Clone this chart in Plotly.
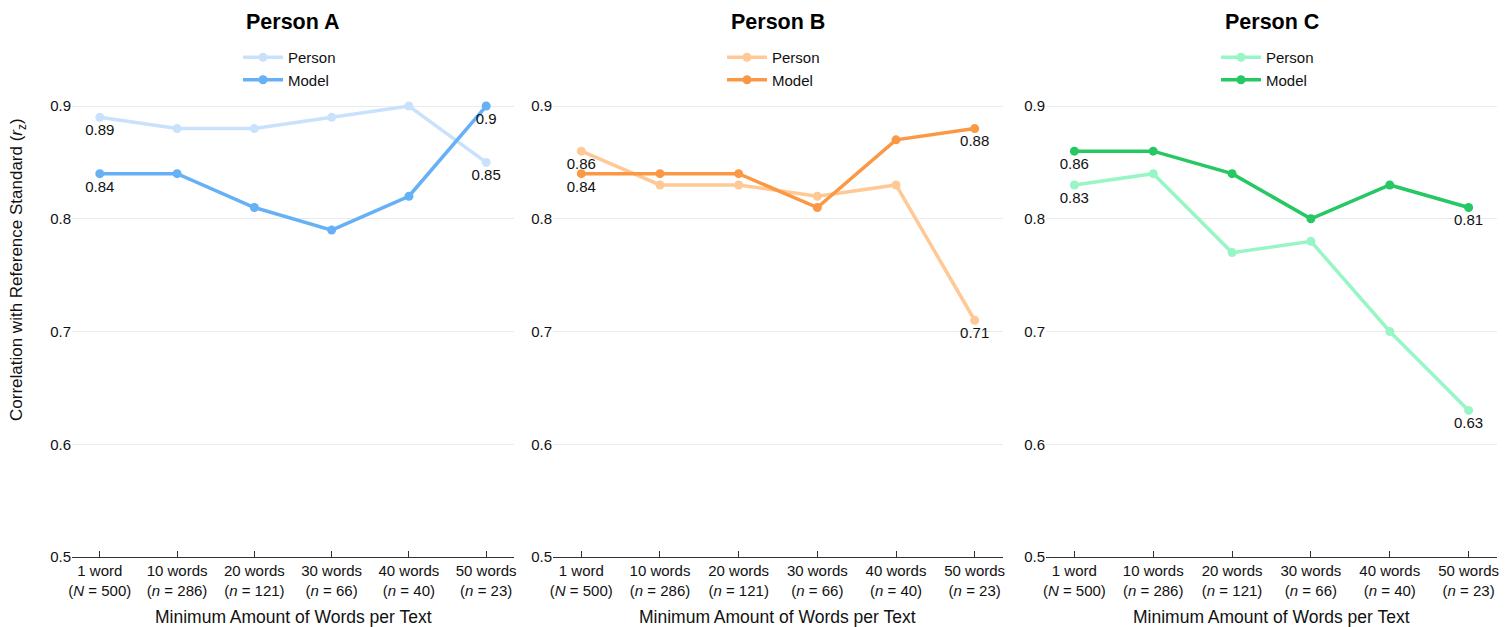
import plotly.graph_objects as go

# the page body adds an 8px margin, so the figure is drawn at (8, 8)
OFF = 8
W, H = 1512 - 2 * OFF, 627 - OFF

categories = ["1 word", "10 words", "20 words", "30 words", "40 words", "50 words"]
tick_labels = [
    "1 word<br>(<i>N</i> = 500)",
    "10 words<br>(<i>n</i> = 286)",
    "20 words<br>(<i>n</i> = 121)",
    "30 words<br>(<i>n</i> = 66)",
    "40 words<br>(<i>n</i> = 40)",
    "50 words<br>(<i>n</i> = 23)",
]
panel_titles = ["Person A", "Person B", "Person C"]

person_a = [0.89, 0.88, 0.88, 0.89, 0.90, 0.85]
model_a = [0.84, 0.84, 0.81, 0.79, 0.82, 0.90]
person_b = [0.86, 0.83, 0.83, 0.82, 0.83, 0.71]
model_b = [0.84, 0.84, 0.84, 0.81, 0.87, 0.88]
person_c = [0.83, 0.84, 0.77, 0.78, 0.70, 0.63]
model_c = [0.86, 0.86, 0.84, 0.80, 0.83, 0.81]

person_colors = ["#c9e1fb", "#fec994", "#98f6c6"]
model_colors = ["#66b0f6", "#fb9846", "#25c863"]

FONT = "Helvetica, Arial, 'Liberation Sans', sans-serif"

# pixel layout (page coordinates)
x_dom_px = [(72, 514), (553, 1003), (1046, 1497)]
y_bottom_px, y_top_px = 557, 95
legend_x_px = [238, 722, 1216]


def px_x(p):
    return (p - OFF) / W


def px_y(p):
    return 1 - (p - OFF) / H


def end_labels(vals):
    return [f"{v:g}" if i in (0, len(vals) - 1) else "" for i, v in enumerate(vals)]


fig = go.Figure()
series = [(person_a, model_a), (person_b, model_b), (person_c, model_c)]

layout = dict(
    width=W, height=H,
    margin=dict(l=0, r=0, t=0, b=0),
    paper_bgcolor="white", plot_bgcolor="white",
    font=dict(family=FONT, size=15, color="#111"),
    annotations=[],
)

for k, (pv, mv) in enumerate(series):
    sfx = "" if k == 0 else str(k + 1)
    leg = "legend" if k == 0 else f"legend{k + 1}"
    for name, vals, col in (("Person", pv, person_colors[k]), ("Model", mv, model_colors[k])):
        fig.add_trace(go.Scatter(
            x=categories, y=vals, name=name, mode="lines+markers+text",
            line=dict(color=col, width=3.5), marker=dict(color=col, size=9),
            text=end_labels(vals), textposition="bottom center",
            textfont=dict(size=15, color="#111"),
            xaxis="x" + sfx, yaxis="y" + sfx, legend=leg, cliponaxis=False,
        ))
    x0, x1 = x_dom_px[k]
    layout["xaxis" + sfx] = dict(
        domain=[px_x(x0), px_x(x1)], anchor="y" + sfx,
        type="category", categoryorder="array", categoryarray=categories,
        range=[-0.36, 5.36],
        tickmode="array", tickvals=categories, ticktext=tick_labels,
        showline=True, linecolor="#333", linewidth=1.2,
        ticks="inside", ticklen=6, tickcolor="#333", tickwidth=1,
        showgrid=False, tickfont=dict(size=15, color="#111"),
        automargin=False, fixedrange=True,
    )
    layout["yaxis" + sfx] = dict(
        domain=[px_y(y_bottom_px), px_y(y_top_px)], anchor="x" + sfx,
        range=[0.5, 0.9098], tickvals=[0.5, 0.6, 0.7, 0.8, 0.9],
        ticktext=["0.5", "0.6", "0.7", "0.8", "0.9"],
        showgrid=True, gridcolor="#ebebeb", gridwidth=1,
        zeroline=False, showline=False, ticks="",
        tickfont=dict(size=15, color="#111"),
        automargin=False, fixedrange=True,
    )
    layout[leg] = dict(
        x=px_x(legend_x_px[k]), y=px_y(41), xanchor="left", yanchor="top",
        orientation="v", font=dict(size=15, color="#111"),
        bgcolor="rgba(0,0,0,0)", itemwidth=40, tracegroupgap=0,
    )
    cx = (x0 + x1) / 2
    layout["annotations"].append(dict(
        x=px_x(cx), y=px_y(617), xref="paper", yref="paper",
        text="Minimum Amount of Words per Text", showarrow=False,
        font=dict(size=17.5, color="#111"), xanchor="center", yanchor="middle",
    ))
    layout["annotations"].append(dict(
        x=px_x(cx), y=px_y(22), xref="paper", yref="paper",
        text=f"<b>{panel_titles[k]}</b>", showarrow=False,
        font=dict(size=21.5, color="#000"), xanchor="center", yanchor="middle",
    ))

layout["annotations"].append(dict(
    x=px_x(18), y=px_y(270), xref="paper", yref="paper",
    text="Correlation with Reference Standard (<i>r</i><sub>z</sub>)",
    showarrow=False, textangle=-90,
    font=dict(size=17, color="#111"), xanchor="center", yanchor="middle",
))

fig.update_layout(**layout)
fig.write_html("out.html")
